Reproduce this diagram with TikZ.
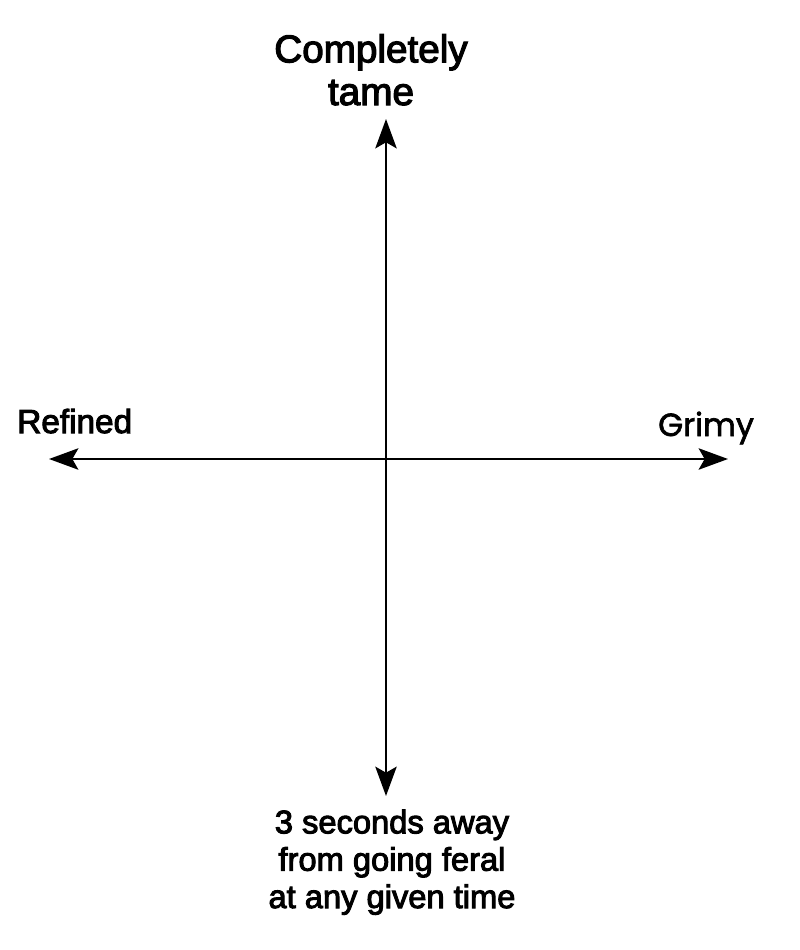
\documentclass[tikz,border=0pt]{standalone}
\usepackage{fontspec}
\setmainfont{Liberation Sans}[FakeBold=3]
\newfontfamily\grimyfont{Poppins}[FakeBold=2]
\usetikzlibrary{arrows.meta}

\begin{document}
\begin{tikzpicture}[x=0.75pt,y=0.75pt,yscale=-1,xscale=1,
  axis/.style={line width=1.9pt,-{Stealth[length=22pt,width=16pt,inset=4.5pt]}},
  label/.style={inner sep=0pt,align=center}]
%set diagram to 800 x 950
\useasboundingbox (0,0) rectangle (800,950);

%Axis ends
\coordinate (origin) at (386,459);
\coordinate (top) at (386,119);
\coordinate (bottom) at (386,796);
\coordinate (left) at (49,459);
\coordinate (right) at (728,459);

%Straight Lines
\draw [axis] (origin) -- (top);
\draw [axis] (origin) -- (bottom);
\draw [axis] (origin) -- (left);
\draw [axis] (origin) -- (right);

% Text Node
\node (tame) [label,anchor=base,font=\fontsize{29}{32}\selectfont] at (371,105) {Completely\\tame};
% Text Node
\node (refined) [label,anchor=base west,font=\fontsize{25}{30}\selectfont] at (17,433) {Refined};
% Text Node
\node (grimy) [label,anchor=base west,font=\grimyfont\fontsize{24}{26}\selectfont] at (658,436) {Grimy};
% Text Node
\node (feral) [label,anchor=base,font=\fontsize{24.5}{28}\selectfont] at (392,908) {3 seconds away\\from going feral\\at any given time};

\end{tikzpicture}
\end{document}
